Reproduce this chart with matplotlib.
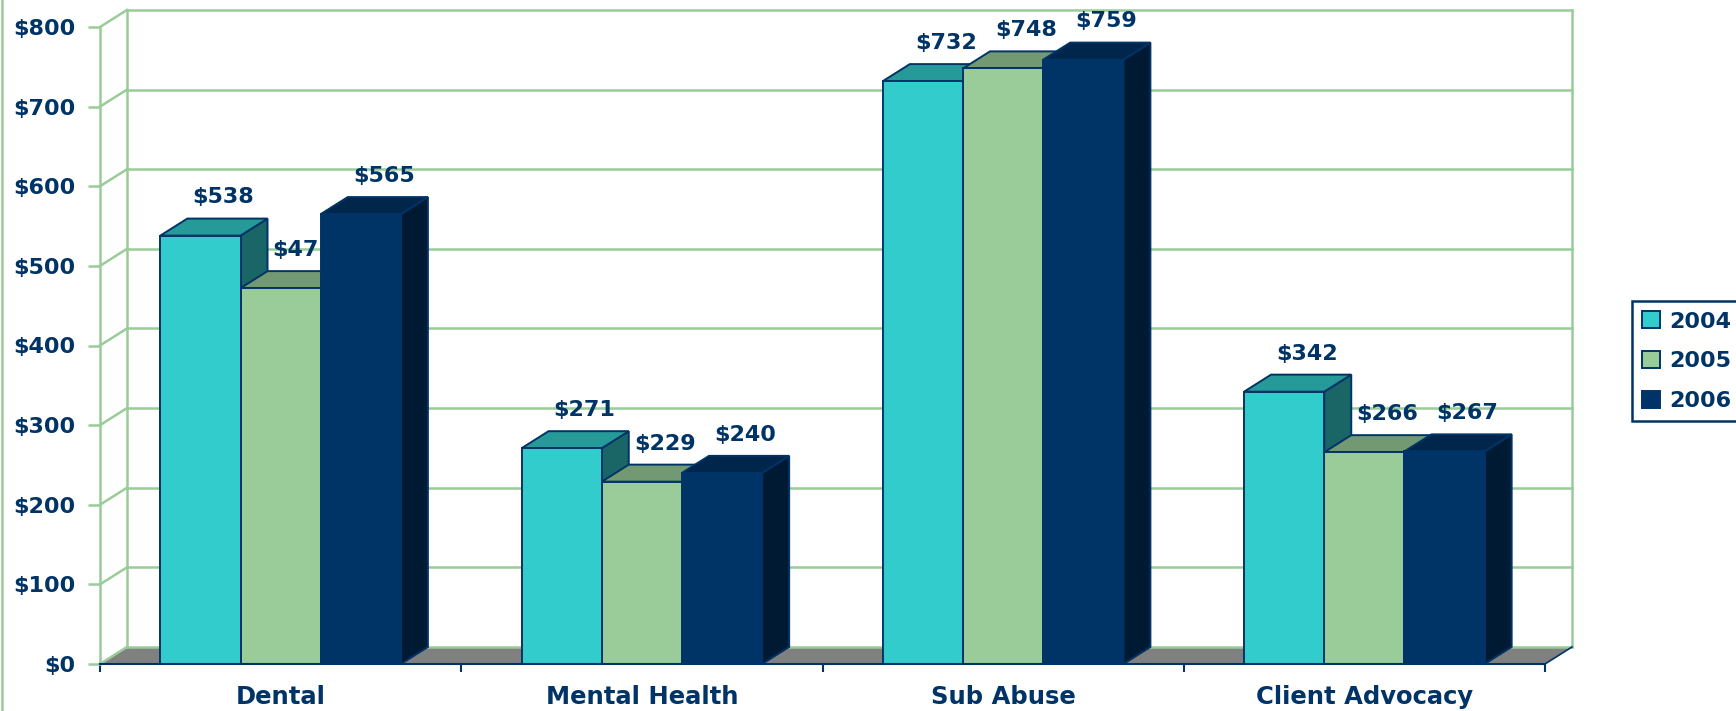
import matplotlib.pyplot as plt
from matplotlib.patches import Polygon, Patch
from matplotlib.lines import Line2D

categories = ['Dental', 'Mental Health', 'Sub Abuse', 'Client Advocacy']
years = ['2004', '2005', '2006']
v2004 = [538, 271, 732, 342]
v2005 = [472, 229, 748, 266]
v2006 = [565, 240, 759, 267]
series = [v2004, v2005, v2006]

# front / top / side shades for each year
front_c = ['#33CCCC', '#99CC99', '#003366']
top_c = ['#269999', '#729972', '#00264C']
side_c = ['#1A6666', '#4C664C', '#001A33']
navy = '#003366'
grid_c = '#99CC99'

fig = plt.figure(figsize=(17.36, 7.11), dpi=100)
ax = fig.add_axes([100 / 1736, 47 / 711, 1445 / 1736, 637 / 711])
ax.set_xlim(0, 4)
ax.set_ylim(0, 800)

dx, dy = 0.0747, 21.4   # depth offset in data units
w = 0.222               # bar width

# floor
ax.add_patch(Polygon([(0, 0), (4, 0), (4 + dx, dy), (dx, dy)], closed=True,
                     fc='#808080', ec='none', zorder=1, clip_on=False))

# back wall + left wall grid
for v in range(0, 801, 100):
    ax.plot([dx, 4 + dx], [v + dy, v + dy], color=grid_c, lw=1.8, zorder=2, clip_on=False)
    ax.plot([0, dx], [v, v + dy], color=grid_c, lw=1.8, zorder=2, clip_on=False)
ax.plot([dx, dx], [dy, 800 + dy], color=grid_c, lw=1.8, zorder=2, clip_on=False)
ax.plot([4 + dx, 4 + dx], [dy, 800 + dy], color=grid_c, lw=1.8, zorder=2, clip_on=False)
ax.plot([4, 4 + dx], [0, dy], color=navy, lw=1.2, zorder=2, clip_on=False)

z = 3
for i in range(len(categories)):
    for j, vals in enumerate(series):
        h = vals[i]
        x0 = i + 0.5 - 1.5 * w + j * w
        x1 = x0 + w
        front = [(x0, 0), (x1, 0), (x1, h), (x0, h)]
        top = [(x0, h), (x1, h), (x1 + dx, h + dy), (x0 + dx, h + dy)]
        side = [(x1, 0), (x1 + dx, dy), (x1 + dx, h + dy), (x1, h)]
        for pts, c in [(side, side_c[j]), (top, top_c[j]), (front, front_c[j])]:
            ax.add_patch(Polygon(pts, closed=True, fc=c, ec=navy, lw=1.4,
                                 joinstyle='miter', zorder=z, clip_on=False))
        # label sits behind the next bar, as in the original
        ax.annotate('${}'.format(h), xy=((x0 + x1) / 2 + 0.85 * dx, h + dy),
                    xytext=(0, 8), textcoords='offset points',
                    ha='center', va='bottom', fontsize=16, fontweight='bold',
                    color=navy, zorder=z + 0.5, annotation_clip=False)
        z += 1

# axes styling
ax.set_yticks(range(0, 801, 100))
ax.set_yticklabels(['${}'.format(v) for v in range(0, 801, 100)],
                   fontsize=16, fontweight='bold', color=navy)
ax.tick_params(axis='y', length=8.6, width=1.8, color=grid_c, pad=9)

ax.set_xticks([0, 1, 2, 3, 4])
ax.set_xticklabels([])
ax.set_xticks([0.5, 1.5, 2.5, 3.5], minor=True)
ax.set_xticklabels(categories, minor=True, fontsize=17.5, fontweight='bold', color=navy)
ax.tick_params(axis='x', which='major', length=6, width=1.5, color=navy)
ax.tick_params(axis='x', which='minor', length=0, pad=15)

ax.spines['top'].set_visible(False)
ax.spines['right'].set_visible(False)
ax.spines['left'].set_color(grid_c)
ax.spines['left'].set_linewidth(1.8)
ax.spines['bottom'].set_color(navy)
ax.spines['bottom'].set_linewidth(1.5)
ax.spines['bottom'].set_zorder(50)
ax.patch.set_visible(False)

# slide border on the left
fig.add_artist(Line2D([0.0012, 0.0012], [0, 1], color=grid_c, lw=1.8))

handles = [Patch(fc=front_c[k], ec=navy, lw=1.4) for k in range(3)]
leg = fig.legend(handles, years, loc='upper left',
                 bbox_to_anchor=(1632 / 1736, 1 - 301 / 711),
                 prop={'size': 16, 'weight': 'bold'}, labelcolor=navy,
                 handlelength=0.8, handleheight=0.8, handletextpad=0.4,
                 labelspacing=0.87, borderpad=0.47, borderaxespad=0,
                 fancybox=False, framealpha=1, edgecolor=navy)
leg.get_frame().set_linewidth(1.8)

fig.savefig('out.png', dpi=100)
